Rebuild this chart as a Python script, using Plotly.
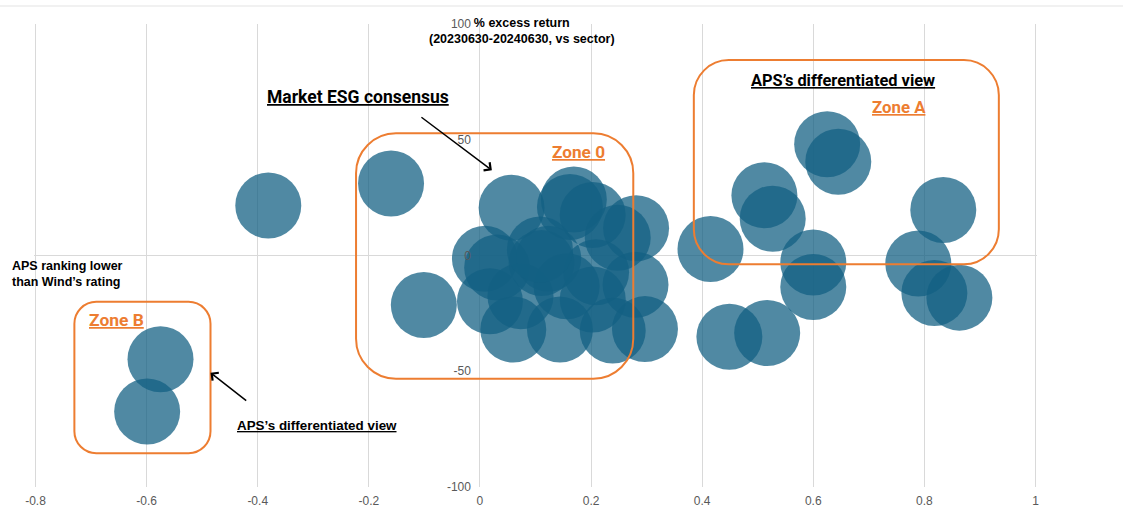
import plotly.graph_objects as go

# Relative ranking gap (APS vs Wind) and 1-year excess return vs sector (%)
rank_gap = [-0.381, -0.160, 0.057, 0.625, 0.645, 0.512, 0.527, 0.834, 0.415, 0.600,
            0.600, 0.789, 0.818, 0.863, 0.449, 0.517, 0.297, 0.239, 0.280, 0.281,
            -0.575, -0.599, -0.101, 0.169, 0.162, 0.203, 0.248, 0.009, 0.031, 0.123,
            0.111, 0.209, 0.018, 0.073, 0.060, 0.144, 0.203, 0.156, 0.108]
excess_return = [21.6, 31.1, 20.6, 48.1, 40.5, 26.0, 15.9, 19.7, 2.8, -3.0,
                 -13.6, -3.5, -16.2, -18.2, -35.1, -33.5, -31.8, -32.4, -12.6, 11.8,
                 -44.8, -67.4, -21.4, 24.2, 21.0, 17.5, 7.7, -1.4, -5.2, -1.4,
                 -3.2, -7.2, -19.8, -17.6, -32.0, -32.0, -19.0, -13.3, 2.6]

x_ticks = [-0.8, -0.6, -0.4, -0.2, 0, 0.2, 0.4, 0.6, 0.8, 1]
x_tick_text = ["-0.8", "-0.6", "-0.4", "-0.2", "0", "0.2", "0.4", "0.6", "0.8", "1"]
y_ticks = [100, 50, 0, -50, -100]
y_tick_text = ["100", "50", "0", "-50", "-100"]

W, H = 1123, 510
M_L, M_R, M_T, M_B = 34, 86, 24, 23
X_RANGE = (-0.8, 1.0)
Y_RANGE = (-100, 100)
PX_X = (W - M_L - M_R) / (X_RANGE[1] - X_RANGE[0])
PX_Y = (H - M_T - M_B) / (Y_RANGE[1] - Y_RANGE[0])
PAD = 1.5 / PX_X  # keeps the outermost grid lines inside the drawing range

ORANGE = "#ED7D31"
BUBBLE = "rgba(19,96,131,0.74)"
GRID = "#d9d9d9"
TICK_FONT = dict(family="Liberation Sans, Arial", size=12, color="#595959")
HEAD_FONT = "Roboto, Liberation Sans"
NOTE_FONT = dict(family="Liberation Sans, Arial", size=12.5, color="#000000")


def rounded_box(x0, x1, y0, y1, r_px):
    """SVG path of a rounded rectangle in data units, corner radius in pixels."""
    rx, ry = r_px / PX_X, r_px / PX_Y
    k = 0.5523
    return (
        f"M{x0 + rx},{y1} L{x1 - rx},{y1} "
        f"C{x1 - rx + k * rx},{y1} {x1},{y1 - ry + k * ry} {x1},{y1 - ry} "
        f"L{x1},{y0 + ry} "
        f"C{x1},{y0 + ry - k * ry} {x1 - rx + k * rx},{y0} {x1 - rx},{y0} "
        f"L{x0 + rx},{y0} "
        f"C{x0 + rx - k * rx},{y0} {x0},{y0 + ry - k * ry} {x0},{y0 + ry} "
        f"L{x0},{y1 - ry} "
        f"C{x0},{y1 - ry + k * ry} {x0 + rx - k * rx},{y1} {x0 + rx},{y1} Z"
    )


fig = go.Figure(
    go.Scatter(
        x=rank_gap,
        y=excess_return,
        mode="markers",
        marker=dict(size=66, color=BUBBLE, line=dict(width=0)),
        hoverinfo="x+y",
    )
)

# Zone outlines
zones = [
    (-0.223, 0.276, -53.2, 52.8, 40),   # Zone 0
    (0.385, 0.934, -3.8, 84.4, 35),     # Zone A
    (-0.730, -0.485, -85.4, -20.0, 22),  # Zone B
]
shapes = [
    dict(type="path", xref="x", yref="y", path=rounded_box(*z),
         line=dict(color=ORANGE, width=2), fillcolor="rgba(0,0,0,0)", layer="above")
    for z in zones
]
# thin rule along the very top of the canvas
top_rule = 1 + (M_T - 6) / (H - M_T - M_B)
shapes.append(dict(type="line", xref="paper", yref="paper",
                   x0=-M_L / (W - M_L - M_R), x1=(W - M_L) / (W - M_L - M_R),
                   y0=top_rule, y1=top_rule,
                   line=dict(color="#e3e3e3", width=1)))

annotations = [
    # axis title at the top of the vertical axis
    dict(x=0.0754, y=97.0, xref="x", yref="y", showarrow=False,
         text="<b>% excess return<br>(20230630-20240630, vs sector)</b>",
         font=NOTE_FONT, align="center"),
    dict(x=-0.0239, y=-7.8, xref="paper", yref="y", xanchor="left", showarrow=False,
         text="<b>APS ranking lower<br>than Wind’s rating</b>", align="left",
         font=NOTE_FONT),
    dict(x=1.0395, y=-7.1, xref="x", yref="y", showarrow=False,
         text="<b>APS ranking higher<br>than Wind’s rating</b>", align="center",
         font=NOTE_FONT),
    dict(x=-0.219, y=68.4, xref="x", yref="y", showarrow=False,
         text="<b><u>Market ESG consensus</u></b>",
         font=dict(family=HEAD_FONT, size=17.5, color="#000000")),
    dict(x=0.6526, y=75.8, xref="x", yref="y", showarrow=False,
         text="<b><u>APS’s differentiated view</u></b>",
         font=dict(family=HEAD_FONT, size=16.4, color="#000000")),
    dict(x=0.754, y=64.1, xref="x", yref="y", showarrow=False,
         text="<b><u>Zone A</u></b>", font=dict(family=HEAD_FONT, size=16.8, color=ORANGE)),
    dict(x=0.177, y=44.6, xref="x", yref="y", showarrow=False,
         text="<b><u>Zone 0</u></b>", font=dict(family=HEAD_FONT, size=17.2, color=ORANGE)),
    dict(x=-0.655, y=-27.7, xref="x", yref="y", showarrow=False,
         text="<b><u>Zone B</u></b>", font=dict(family=HEAD_FONT, size=17.4, color=ORANGE)),
    dict(x=-0.293, y=-73.6, xref="x", yref="y", showarrow=False,
         text="<b><u>APS’s differentiated view</u></b>",
         font=dict(family="Liberation Sans Narrow, Liberation Sans, Arial", size=13.4,
                   color="#000000")),
    # pointer arrows
    dict(x=0.0215, y=36.8, ax=-0.108, ay=60.2, xref="x", yref="y", axref="x", ayref="y",
         text="", showarrow=True, arrowhead=4, arrowsize=1.3, arrowwidth=1.5,
         arrowcolor="#000000"),
    dict(x=-0.485, y=-50.6, ax=-0.418, ay=-63.2, xref="x", yref="y", axref="x", ayref="y",
         text="", showarrow=True, arrowhead=4, arrowsize=1.3, arrowwidth=1.5,
         arrowcolor="#000000"),
]

fig.update_layout(
    width=W, height=H,
    margin=dict(l=M_L, r=M_R, t=M_T, b=M_B, autoexpand=False),
    paper_bgcolor="white", plot_bgcolor="white",
    showlegend=False,
    shapes=shapes,
    annotations=annotations,
    xaxis=dict(
        range=[X_RANGE[0] - PAD, X_RANGE[1] + PAD], tickvals=x_ticks, ticktext=x_tick_text,
        showgrid=True, gridcolor=GRID, gridwidth=1,
        zeroline=True, zerolinecolor=GRID, zerolinewidth=1,
        showline=False, ticks="", tickfont=TICK_FONT, ticklabelstandoff=5,
        automargin=False, fixedrange=True,
    ),
    yaxis=dict(
        range=list(Y_RANGE), tickvals=y_ticks, ticktext=y_tick_text,
        anchor="free", position=(0 - X_RANGE[0] + PAD) / (X_RANGE[1] - X_RANGE[0] + 2 * PAD),
        showgrid=False, zeroline=True, zerolinecolor=GRID, zerolinewidth=1,
        showline=False, ticks="", tickfont=TICK_FONT, ticklabelstandoff=9,
        automargin=False, fixedrange=True,
    ),
)

fig.write_html("out.html")
